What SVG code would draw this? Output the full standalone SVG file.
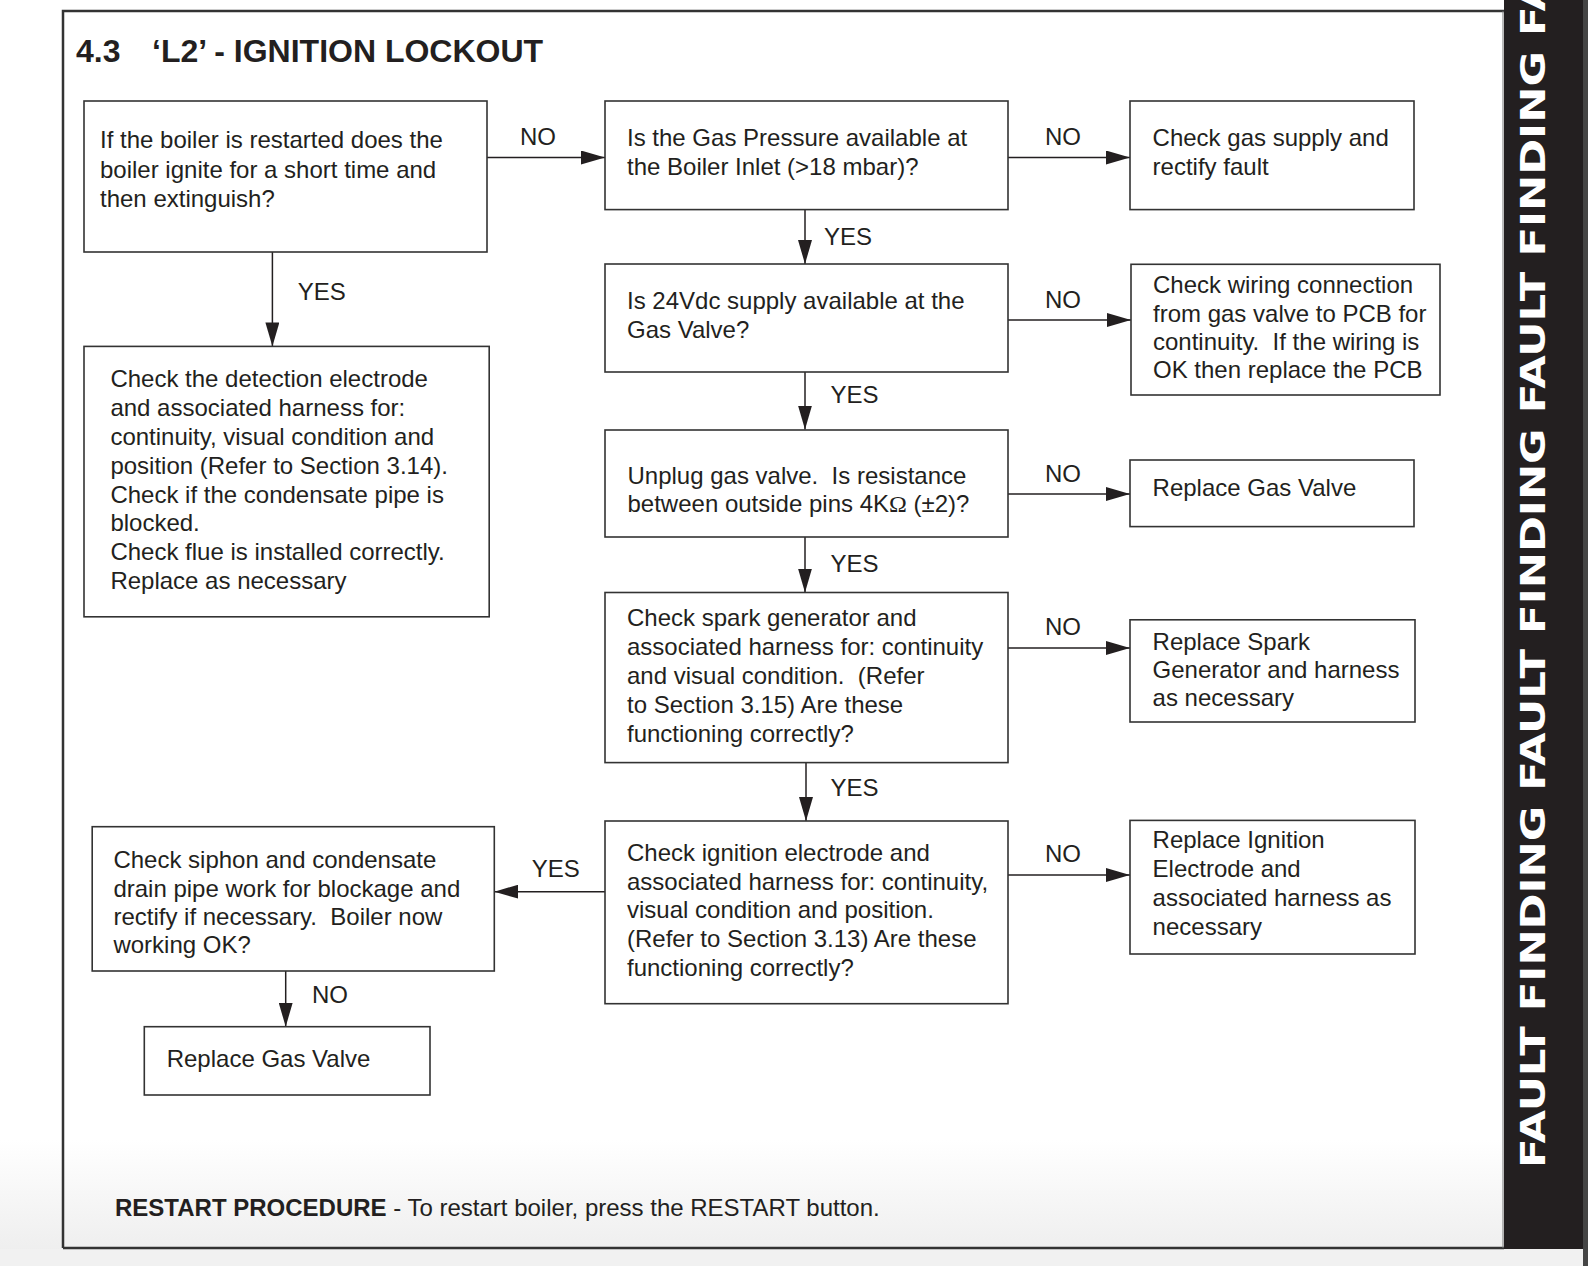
<svg xmlns="http://www.w3.org/2000/svg" width="1588" height="1266" viewBox="0 0 1588 1266">
<defs>
<linearGradient id="bg" x1="0" y1="0" x2="0" y2="1">
<stop offset="0" stop-color="#ffffff"/>
<stop offset="1" stop-color="#ececec"/>
</linearGradient>
<marker id="ah" markerUnits="userSpaceOnUse" markerWidth="24" markerHeight="14" refX="24" refY="7" orient="auto">
<path d="M0,0 L24,7 L0,14 z" fill="#231f20"/>
</marker>
</defs>
<style>
.box{fill:#ffffff;stroke:#333333;stroke-width:1.6}
.t{font-family:"Liberation Sans",Arial,sans-serif;font-size:24px;fill:#231f20;white-space:pre}
.lb{font-family:"Liberation Sans",Arial,sans-serif;font-size:24px;fill:#231f20}
.c{stroke:#231f20;stroke-width:1.5;fill:none;marker-end:url(#ah)}
</style>
<rect x="0" y="0" width="1588" height="1266" fill="#ffffff"/>
<rect x="0" y="1140" width="1588" height="126" fill="url(#bg)"/>
<rect x="0" y="1249" width="1588" height="17" fill="#f1f1f1"/>
<rect x="1504" y="0" width="79" height="1249" fill="#231f20"/>
<rect x="1583" y="0" width="5" height="1266" fill="#454545"/>
<text transform="translate(1545,1168) rotate(-90)" font-family="'DejaVu Sans',sans-serif" font-weight="bold" font-size="34.3" fill="#ffffff" textLength="1190" lengthAdjust="spacingAndGlyphs">FAULT FINDING FAULT FINDING FAULT FINDING FA</text>
<path d="M63,1248 L63,11 L1504,11 M63,1248 L1504,1248" fill="none" stroke="#333333" stroke-width="2.5"/>
<line x1="1503" y1="11" x2="1503" y2="1248" stroke="#777777" stroke-width="1"/>
<g id="title" font-family="'Liberation Sans',Arial,sans-serif" font-weight="bold" font-size="32" fill="#231f20">
<text x="76" y="61.7">4.3</text>
<text x="152" y="61.7">‘L2’ - IGNITION LOCKOUT</text>
</g>
<g id="connectors">
<line class="c" x1="487" y1="157.5" x2="605" y2="157.5"/>
<line class="c" x1="1008" y1="157.5" x2="1130" y2="157.5"/>
<line class="c" x1="805" y1="209.6" x2="805" y2="264"/>
<line class="c" x1="1008" y1="320" x2="1131" y2="320"/>
<line class="c" x1="805" y1="372" x2="805" y2="429.5"/>
<line class="c" x1="1008" y1="494" x2="1130" y2="494"/>
<line class="c" x1="805" y1="537" x2="805" y2="592.5"/>
<line class="c" x1="1008" y1="648" x2="1130" y2="648"/>
<line class="c" x1="806" y1="762.6" x2="806" y2="821"/>
<line class="c" x1="1008" y1="875" x2="1130" y2="875"/>
<line class="c" x1="605" y1="891.7" x2="494.3" y2="891.7"/>
<line class="c" x1="285.7" y1="971" x2="285.7" y2="1026.7"/>
<line class="c" x1="272.4" y1="252" x2="272.4" y2="346.4"/>
<text class="lb" x="520" y="145">NO</text>
<text class="lb" x="1045" y="145">NO</text>
<text class="lb" x="824" y="245">YES</text>
<text class="lb" x="1045" y="308">NO</text>
<text class="lb" x="830.5" y="403">YES</text>
<text class="lb" x="1045" y="482">NO</text>
<text class="lb" x="830.5" y="572">YES</text>
<text class="lb" x="1045" y="635">NO</text>
<text class="lb" x="830.5" y="796">YES</text>
<text class="lb" x="1045" y="862">NO</text>
<text class="lb" x="531.7" y="877">YES</text>
<text class="lb" x="312" y="1002.7">NO</text>
<text class="lb" x="297.8" y="300">YES</text>
</g>
<g id="nodeA">
<rect class="box" x="84" y="101" width="403" height="151"/>
<text class="t"><tspan x="100" y="148">If the boiler is restarted does the</tspan><tspan x="100" y="177.5">boiler ignite for a short time and</tspan><tspan x="100" y="207">then extinguish?</tspan></text>
</g>
<g id="nodeB">
<rect class="box" x="605" y="101" width="403" height="108.6"/>
<text class="t"><tspan x="627" y="146">Is the Gas Pressure available at</tspan><tspan x="627" y="174.5">the Boiler Inlet (&gt;18 mbar)?</tspan></text>
</g>
<g id="nodeC">
<rect class="box" x="1130" y="101" width="284" height="108.6"/>
<text class="t"><tspan x="1152.6" y="146">Check gas supply and</tspan><tspan x="1152.6" y="174.5">rectify fault</tspan></text>
</g>
<g id="nodeD">
<rect class="box" x="605" y="264" width="403" height="108"/>
<text class="t"><tspan x="627" y="309">Is 24Vdc supply available at the</tspan><tspan x="627" y="337.5">Gas Valve?</tspan></text>
</g>
<g id="nodeE">
<rect class="box" x="1131" y="264.3" width="309" height="130.7"/>
<text class="t"><tspan x="1153" y="293.3">Check wiring connection</tspan><tspan x="1153" y="321.7">from gas valve to PCB for</tspan><tspan x="1153" y="350">continuity.  If the wiring is</tspan><tspan x="1153" y="377.5">OK then replace the PCB</tspan></text>
</g>
<g id="nodeF">
<rect class="box" x="605" y="430" width="403" height="107"/>
<text class="t"><tspan x="627.5" y="484">Unplug gas valve.  Is resistance</tspan><tspan x="627.5" y="511.7">between outside pins 4K<tspan font-family="'Liberation Serif',serif">Ω</tspan> (±2)?</tspan></text>
</g>
<g id="nodeG">
<rect class="box" x="1130" y="460" width="284" height="66.6"/>
<text class="t" x="1152.6" y="495.5">Replace Gas Valve</text>
</g>
<g id="nodeH">
<rect class="box" x="605" y="592.5" width="403" height="170.1"/>
<text class="t"><tspan x="627" y="626">Check spark generator and</tspan><tspan x="627" y="655">associated harness for: continuity</tspan><tspan x="627" y="684">and visual condition.  (Refer</tspan><tspan x="627" y="713">to Section 3.15) Are these</tspan><tspan x="627" y="741.5">functioning correctly?</tspan></text>
</g>
<g id="nodeI">
<rect class="box" x="1130" y="619.8" width="285" height="102.2"/>
<text class="t"><tspan x="1152.6" y="649.5">Replace Spark</tspan><tspan x="1152.6" y="678">Generator and harness</tspan><tspan x="1152.6" y="706">as necessary</tspan></text>
</g>
<g id="nodeJ">
<rect class="box" x="605" y="821" width="403" height="182.7"/>
<text class="t"><tspan x="627" y="861">Check ignition electrode and</tspan><tspan x="627" y="889.5">associated harness for: continuity,</tspan><tspan x="627" y="918">visual condition and position.</tspan><tspan x="627" y="947">(Refer to Section 3.13) Are these</tspan><tspan x="627" y="975.5">functioning correctly?</tspan></text>
</g>
<g id="nodeK">
<rect class="box" x="1130" y="820.4" width="285" height="133.6"/>
<text class="t"><tspan x="1152.6" y="848">Replace Ignition</tspan><tspan x="1152.6" y="877">Electrode and</tspan><tspan x="1152.6" y="905.5">associated harness as</tspan><tspan x="1152.6" y="935">necessary</tspan></text>
</g>
<g id="nodeL">
<rect class="box" x="92.2" y="826.7" width="402.1" height="144.3"/>
<text class="t"><tspan x="113.4" y="868">Check siphon and condensate</tspan><tspan x="113.4" y="896.5">drain pipe work for blockage and</tspan><tspan x="113.4" y="925">rectify if necessary.  Boiler now</tspan><tspan x="113.4" y="953">working OK?</tspan></text>
</g>
<g id="nodeM">
<rect class="box" x="144.3" y="1026.7" width="285.7" height="68.3"/>
<text class="t" x="166.7" y="1066.7">Replace Gas Valve</text>
</g>
<g id="nodeN">
<rect class="box" x="84" y="346.4" width="405.2" height="270.4"/>
<text class="t"><tspan x="110.4" y="387">Check the detection electrode</tspan><tspan x="110.4" y="415.5">and associated harness for:</tspan><tspan x="110.4" y="445">continuity, visual condition and</tspan><tspan x="110.4" y="474">position (Refer to Section 3.14).</tspan><tspan x="110.4" y="502.5">Check if the condensate pipe is</tspan><tspan x="110.4" y="531">blocked.</tspan><tspan x="110.4" y="560">Check flue is installed correctly.</tspan><tspan x="110.4" y="588.5">Replace as necessary</tspan></text>
</g>
<g id="restart">
<text class="t" x="115" y="1215.5" style="font-size:24px"><tspan font-weight="bold">RESTART PROCEDURE</tspan> - To restart boiler, press the RESTART button.</text>
</g>
</svg>
